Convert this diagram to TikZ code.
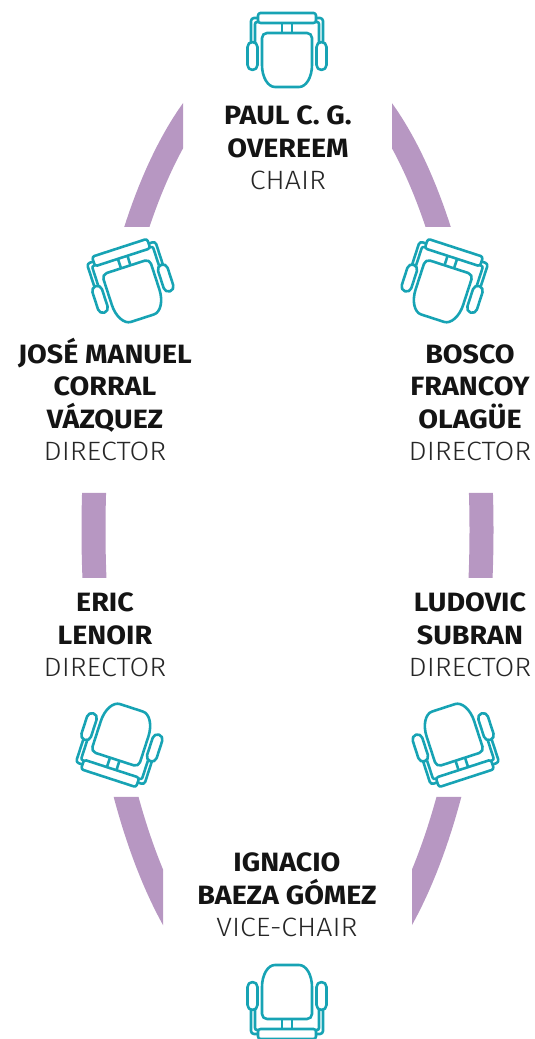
\documentclass[tikz,border=0pt]{standalone}
\usepackage{fontspec}
\setmainfont{Fira Sans}[FakeStretch=1.08]
\newfontfamily\rolefont{Fira Sans Light}[FakeStretch=1.08]
\definecolor{chairteal}{HTML}{17A3B4}
\definecolor{tableviolet}{HTML}{B797C2}
\tikzset{
  chair/.pic={
    \draw[rounded corners=2.5] (-29,27) rectangle (29,37);
    \draw (-5,27)--(-5,17) (5,27)--(5,17);
    \draw (-25,-15) [rounded corners=5]-- (-25,17) -- (25,17) [sharp corners]-- (25,-15)
      arc[start angle=0, end angle=-90, x radius=13, y radius=22] -- (-12,-37)
      arc[start angle=270, end angle=180, x radius=13, y radius=22] -- cycle;
    \foreach \s in {-1,1}{
      \draw[rounded corners=5] (\s*29.5,-20) rectangle (\s*39.5,8);
      \draw[rounded corners=3] (\s*29,32) -| (\s*36,8);
      \draw[rounded corners=2] (\s*29,28) -| (\s*32,8);
    }
  },
  chairline/.style={color=chairteal, line width=2.6pt, line join=round},
  member/.style={font=\bfseries\fontsize{26.5}{32.5}\selectfont, align=center,
    anchor=base, inner sep=0pt, text=black!92},
}
\newcommand*{\role}[1]{{\rolefont\mdseries\color{black!85}#1}}
\begin{document}
\begin{tikzpicture}[x=1pt, y=1pt]
		\useasboundingbox (0,0) rectangle (535,1039);
		% table
		\begin{scope}
			\clip (0,812) rectangle (183,1039) (392,812) rectangle (535,1039)
				(0,461) rectangle (535,546)
				(0,0) rectangle (163,242) (412,0) rectangle (535,242);
			\draw[tableviolet, line width=24pt](287.5,509)ellipse[x radius=194, y radius=481];
		\end{scope}
		% seats
		\pic[chairline] (topchair) at (287,989) {chair};
		\pic[chairline, rotate=18] (ulchair) at (131,756) {chair};
		\pic[chairline, rotate=-18] (urchair) at (444,756) {chair};
		\pic[chairline, rotate=162] (llchair) at (120,296) {chair};
		\pic[chairline, rotate=-162] (lrchair) at (455,296) {chair};
		\pic[chairline, rotate=180] (botchair) at (287,37) {chair};
		% members (base = last line)
		\node[member] (chair) at (288,849) {PAUL C. G.\\OVEREEM\\\role{CHAIR}};
		\node[member] (ul) at (105,578) {JOSÉ MANUEL\\CORRAL\\VÁZQUEZ\\\role{DIRECTOR}};
		\node[member] (ur) at (470,578) {BOSCO\\FRANCOY\\OLAGÜE\\\role{DIRECTOR}};
		\node[member] (ll) at (105,362) {ERIC\\LENOIR\\\role{DIRECTOR}};
		\node[member] (lr) at (470,362) {LUDOVIC\\SUBRAN\\\role{DIRECTOR}};
		\node[member] (vice) at (287,102) {IGNACIO\\BAEZA GÓMEZ\\\role{VICE-CHAIR}};
	\end{tikzpicture}
\end{document}
